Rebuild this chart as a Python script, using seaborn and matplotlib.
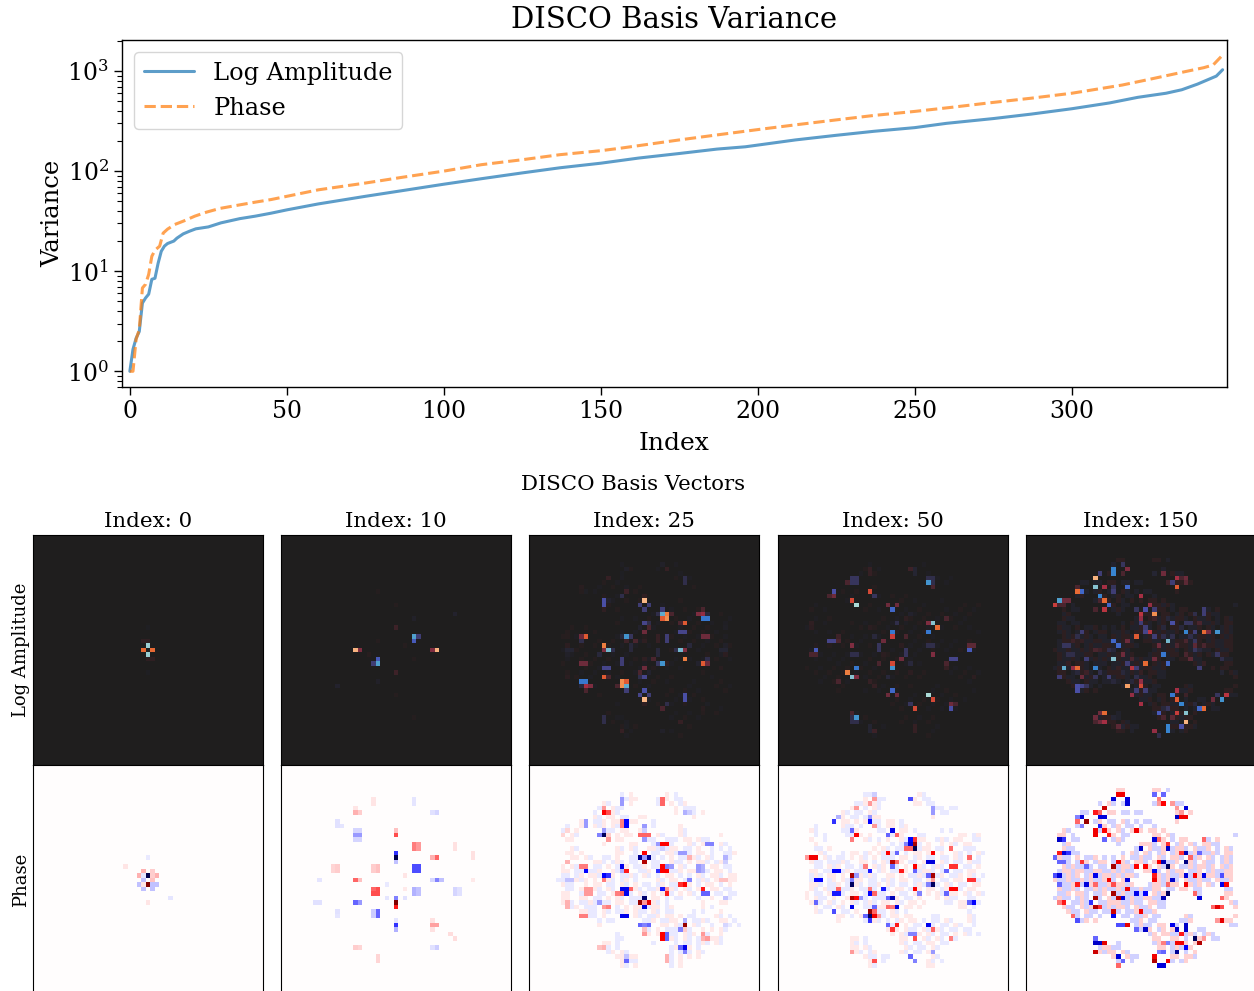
import numpy as np
import matplotlib
matplotlib.use("Agg")
import matplotlib.pyplot as plt
import seaborn as sns

# ---------- variance curves ----------
LOG_IDX = [0,1,2,3,4,5,6,7,8,9,10,11,12,14,15,17,19,21,25,29,35,40,45,50,60,75,87,100,112,125,137,150,162,175,187,196,212,225,237,250,260,275,287,300,312,321,330,335,340,346,348]
LOG_VAR = [1.0,1.66,2.14,2.5,4.8,5.4,5.9,8.3,8.5,12.0,15.8,17.8,18.9,20,21.4,23.6,25.1,26.5,27.7,30.4,33.5,35.5,38,41,47,56,64,74,84,96,108,120,135,150,166,175,205,228,250,272,300,335,371,420,480,546,600,650,740,890,1030]
PHASE_IDX = [0,1,2,3,4,5,6,7,8,9.5,10.6,12,14.3,17,20.7,24.4,28.7,35,40,45,50,60,75,87,100,112,125,137,150,156,175,187,200,212,225,237,250,262,274,287,300,316,325,335,342,345,347.5]
PHASE_VAR = [1.0,1.0,2.1,2.6,6.8,7.4,9.3,14.1,16.2,17.8,24,26.3,29.3,31.6,35.5,38.9,42.4,46,49,52,56,65,76,87,100,116,130,146,160,169,205,230,260,290,325,360,395,435,482,535,600,724,830,970,1080,1150,1390]
INDEX_LABELS = [0, 10, 25, 50, 150]
ROW_LABELS = ["Log Amplitude", "Phase"]
XTICKS = [0, 50, 100, 150, 200, 250, 300]

# ---------- basis vector cells: (row, col, value) on a 51x51 grid ----------
LOG_0 = [(24,25,-.9),(26,25,-.9),(25,24,.7),(25,26,.7),(23,24,.1),(23,25,.1),(27,25,.1),(27,26,.1),(20,25,-.04),(30,25,-.04)]
PHASE_0 = [(24,25,-1),(26,25,1),(23,24,.15),(23,26,.1),(24,23,.15),(24,24,-.05),(24,26,.1),(24,27,.15),(25,24,-.12),(25,26,.12),
           (26,23,-.12),(26,24,.05),(26,26,-.12),(26,27,-.12),(27,24,-.12),(27,26,-.12),(20,25,-.04),(30,25,.05),(22,20,.05),(29,30,-.05)]
LOG_10 = [(25,16,.9),(25,17,.35),(25,34,.9),(25,33,.35),(22,29,-.7),(22,30,-.3),(23,29,-.45),(28,21,-.7),(27,21,-.45),(28,20,-.3),
          (20,25,.15),(30,25,.15),(17,38,-.1),(33,12,-.1),(32,21,-.08),(18,29,-.08),(15,25,.05),(35,25,.05),(24,27,.05),(26,19,.06),(12,21,.04),(40,29,.04),(23,21,.05),(27,29,.05)]
PHASE_10 = [(20,25,-1),(19,25,-.4),(21,25,-.12),(30,25,1),(31,25,.45),(29,25,-.25),(15,25,.35),(14,25,.12),(35,25,-.4),(36,25,-.15),(34,25,-.05),
            (17,29,.25),(18,29,.25),(17,30,.2),(18,30,.2),(20,34,.3),(20,33,.15),(22,29,-.35),(22,30,-.35),(23,29,-.35),(23,30,-.35),
            (25,34,-.25),(25,35,-.12),(25,33,-.08),(25,16,.3),(25,17,.12),(27,20,.3),(27,21,.35),(28,20,.35),(28,21,.35),(32,21,-.3),(33,21,-.3),(32,20,-.1),(33,20,-.1),
            (30,16,-.3),(30,17,-.2),(15,16,-.2),(15,17,-.2),(14,16,-.08),(16,16,-.08),(14,17,-.08),(16,17,-.08),(10,16,.15),(10,17,.1),(9,16,.05),(10,34,-.08),(10,33,-.06),
            (27,29,-.15),(27,30,-.12),(28,29,-.15),(28,30,-.12),(22,21,.12),(23,21,.12),(22,20,.1),(23,20,.1),(22,12,.1),(23,12,.1),(22,11,.08),(23,11,.08),
            (12,12,-.06),(13,12,-.06),(13,13,-.05),(32,12,-.06),(33,12,-.05),(27,38,-.08),(28,38,-.08),(27,39,-.06),(28,39,-.06),(17,38,.06),(18,38,.06),
            (35,33,.18),(35,34,.18),(34,33,.06),(36,33,.06),(37,37,.07),(38,38,.07),(40,16,.1),(40,17,.08),(40,34,-.1),(40,33,-.06),(42,21,.08),(43,21,.08),(7,29,-.05),(8,29,-.05),
            (7,20,.05),(8,20,.05),(25,8,-.05),(19,42,.06),(20,42,.06),(30,7,-.06),(30,8,-.06),(25,42,.04),(29,23,-.05),(26,23,-.04),(24,27,.05),(27,27,.04),(29,27,-.06)]
LOG_25 = [(14,25,.92),(16,25,-.3),(15,24,-.3),(15,26,-.3),(13,25,.1),(36,25,.92),(34,25,-.4),(35,24,-.35),(35,26,-.3),(37,25,.1),
          (16,29,-.3),(17,29,-.75),(17,30,.75),(18,30,.8),(18,29,.65),(17,28,-.2),(17,31,.2),(32,20,.8),(33,20,.8),(32,21,.65),(33,21,-.75),(34,21,-.3),(33,19,.2),
          (17,38,.4),(17,37,.35),(16,38,.2),(18,38,-.55),(18,39,-.55),(17,39,-.15),(32,11,-.55),(32,12,-.55),(33,11,-.15),(33,12,.45),(33,13,.35),(34,12,.2),
          (19,34,.65),(19,33,.2),(21,33,-.35),(21,34,-.35),(31,16,.65),(31,17,.2),(29,16,-.35),(29,17,-.35),(22,12,.65),(22,11,.3),(23,11,-.2),(28,38,.65),(28,39,.3),(27,39,-.2),(28,37,-.1),
          (22,21,-.65),(22,22,-.25),(22,20,-.15),(23,21,.15),(23,23,.2),(28,29,-.65),(28,28,-.25),(28,30,.1),(27,27,.2),
          (24,16,.75),(25,17,-.8),(25,16,.35),(25,18,-.2),(26,15,-.15),(27,34,.75),(25,33,-.8),(25,34,.35),(25,32,-.2),(24,35,-.15),
          (19,25,-.35),(19,26,-.2),(21,25,.3),(20,26,.2),(20,24,-.1),(31,25,-.35),(31,24,-.2),(29,25,.3),(30,24,.2),(30,26,-.1),
          (22,30,-.3),(23,30,-.3),(22,28,.12),(23,28,.12),(27,20,-.3),(28,20,-.3),(24,22,-.15),(25,22,-.15),(25,28,-.15),(26,28,-.15),
          (14,16,-.4),(15,16,-.4),(14,17,-.1),(16,16,.1),(35,34,-.4),(36,34,-.4),(40,16,-.2),(41,16,-.2),(9,34,-.2),(10,34,-.2),(13,20,-.2),(12,21,.15),(37,30,-.2),(38,29,.2),
          (22,38,.3),(22,39,.3),(28,11,.3),(28,12,.3),(25,8,-.12),(25,9,-.12),(25,42,-.12),(25,43,-.12),(9,17,.12),(7,30,.12),(43,20,.12),(41,33,.12),(6,29,-.08),(7,21,-.08),(43,29,-.08),(42,21,-.06),(27,25,.1),(23,25,.1),
          (24,8,.08),(26,8,-.08),(26,43,.08),(24,43,-.08),(22,8,.06),(29,42,.07),(20,43,-.07),(31,8,.08),(11,11,.07),(12,12,-.06),(38,38,.07),(37,39,-.06),(40,20,-.04),(8,20,-.04)]
PHASE_25 = [(19,25,.5),(20,24,-.8),(20,26,-.8),(21,25,.8),(20,25,-.2),(29,25,-.9),(30,24,.9),(30,26,.6),(31,25,-.6),(30,25,.2),
            (15,16,-.95),(15,15,-.25),(15,17,.1),(14,16,-.2),(16,17,.2),(35,34,.9),(36,33,-.25),(36,34,.1),(34,34,-.15),(10,16,.5),(10,17,.35),(9,16,.2),
            (12,21,-.5),(13,21,-.5),(12,20,.25),(13,20,.25),(17,29,.5),(17,30,.5),(17,28,-.2),(18,29,-.1),(33,20,-.55),(33,21,-.55),(37,29,.5),(38,29,.5),(37,30,-.3),(38,30,-.3),
            (40,34,-.55),(40,33,-.3),(41,34,-.25),(22,29,.5),(23,29,.5),(23,30,.5),(23,28,-.4),(22,30,-.25),(22,31,-.2),(27,20,-.55),(27,21,-.55),(28,21,-.55),(28,20,.3),(28,19,.25),(27,22,.3),
            (22,20,-.55),(23,21,.45),(23,20,-.15),(27,29,-.45),(28,30,.45),(27,30,.2),(24,16,-.5),(24,17,-.4),(25,16,.25),(26,34,.5),(26,33,.4),(25,35,-.25),
            (23,12,-.5),(22,11,.25),(22,12,.25),(27,38,.45),(28,38,-.3),(28,39,-.3),(17,39,-.25),(17,40,-.25),(33,11,.25),(33,12,.25),(43,21,-.3),(42,21,-.12),(7,29,.3),(8,29,.3),(7,20,-.2),(8,20,-.2),(43,30,.15),(42,30,.15),
            (15,25,.3),(15,26,.3),(15,24,.3),(13,25,-.2),(14,25,-.1),(16,25,-.2),(35,25,-.25),(35,24,-.3),(35,26,-.3),(37,25,.2),(36,25,.12),
            (10,34,-.15),(10,35,-.1),(12,12,-.2),(13,12,-.2),(40,16,.15),(40,15,.12),(37,38,.2),(38,39,.2),(38,38,.15),(14,8,.08),(15,7,.08),(35,43,-.08),(25,8,-.12),(25,9,-.12),(25,43,.12),(25,42,.12),
            (20,43,-.15),(21,43,-.1),(21,8,.15),(30,8,.15),(31,8,.15),(29,43,-.12),(27,12,.2),(27,13,.2),(28,12,.2),(28,13,.2),(22,37,-.2),(23,37,-.2),(22,38,-.15),(23,38,-.15),(19,33,-.2),(19,34,-.2),(20,35,.15),(31,17,.25),(31,16,.2),(30,15,-.2)]
LOG_50 = [(15,17,-.95),(14,16,.6),(35,33,-.95),(36,34,.6),(19,34,-.85),(20,35,.7),(19,33,.35),(21,33,-.55),(31,16,-.85),(30,15,.75),(31,17,.35),(29,17,-.55),
          (21,25,-.55),(22,25,.55),(29,25,-.65),(28,25,.6),(16,25,-.5),(15,24,.3),(15,26,.3),(34,25,-.5),(35,24,.3),(35,26,.3),
          (10,33,-.65),(9,33,-.2),(9,34,-.2),(10,34,-.2),(11,34,.2),(40,17,-.65),(40,16,-.2),(41,16,-.2),(41,17,-.2),(39,16,.2),
          (12,20,.6),(13,21,-.25),(38,30,.6),(37,29,-.25),(12,12,-.4),(13,12,.3),(13,11,.2),(38,38,-.4),(37,38,.3),(37,39,.2),
          (25,8,-.45),(26,7,.2),(26,8,.2),(25,42,-.45),(24,43,.25),(24,42,.25),(23,11,-.35),(23,12,-.35),(23,13,.2),(22,13,.15),(27,38,-.35),(27,39,-.35),(28,37,.2),(29,37,.12),
          (24,16,.35),(26,16,-.2),(26,17,-.2),(26,34,.35),(24,33,-.2),(24,34,-.2),(24,22,-.25),(25,22,-.25),(25,28,-.25),(26,28,-.25),(23,23,.3),(27,27,.3),
          (18,37,.2),(32,13,.2),(19,26,-.2),(31,24,-.15),(9,16,-.25),(9,17,-.25),(10,16,-.25),(10,17,-.25),(10,15,.2),(7,20,.12),(8,20,.12),(42,30,.12),(43,30,.12),(7,30,-.12),(8,30,-.12),(7,29,.15),(42,20,-.12),(43,20,-.12),(43,21,.15),
          (22,28,.2),(28,22,.2),(28,29,-.15),(22,21,-.15),(19,7,.1),(20,7,.08),(31,43,.08),(18,28,.1),(17,29,-.1),(32,20,.12),(33,21,.12),(20,20,.08),(30,29,.08),(26,23,.08),(24,27,.08)]
PHASE_50 = [(18,30,-1),(17,30,.85),(17,29,-.6),(16,29,-.5),(16,30,.4),(18,28,.3),(18,29,.3),(17,28,-.25),(33,20,-.95),(32,20,.9),(33,21,.55),(32,21,.3),(34,20,-.4),(31,21,-.3),(33,19,-.3),(33,22,.2),
            (24,34,.85),(26,34,-.95),(24,33,-.3),(26,33,-.25),(25,34,.2),(24,16,.85),(26,16,-.95),(25,16,-.25),(24,17,-.2),(29,16,.8),(29,17,.5),(31,16,-.55),(29,18,-.2),
            (21,33,-.6),(21,34,-.6),(19,34,.5),(19,24,.5),(21,25,.75),(21,26,.3),(19,26,-.3),(22,25,-.3),(29,25,-.7),(29,24,-.3),(31,26,-.6),(31,24,.3),(31,25,.25),
            (15,17,.5),(14,16,-.3),(16,16,.25),(35,33,-.55),(36,34,.3),(12,12,-.4),(11,13,-.15),(12,20,-.5),(11,20,-.2),(13,21,.2),(14,25,-.55),(15,24,-.3),(15,26,.3),(36,25,.4),(35,24,-.3),(35,26,.45),
            (20,7,.55),(20,8,.55),(20,6,.2),(25,8,-.5),(25,9,-.5),(23,12,-.5),(23,13,-.5),(28,12,-.45),(28,13,-.45),(27,13,.3),(22,39,.4),(22,38,.4),(23,37,-.3),(27,38,.5),(27,39,.5),(28,37,-.3),(25,43,.4),(25,42,.4),
            (30,43,-.5),(30,42,-.3),(20,42,.3),(30,8,-.3),(32,12,-.35),(38,30,.35),(37,29,-.25),(37,30,-.25),(7,29,-.35),(43,21,.35),(7,21,.2),(42,29,-.3),(43,30,-.25),
            (23,20,-.45),(22,19,.25),(27,30,.5),(28,31,-.25),(22,30,.5),(23,27,.45),(23,30,-.3),(27,23,-.45),(28,20,-.5),(28,21,.3),(27,20,.25),
            (18,38,.3),(9,34,-.2),(10,34,-.2),(9,17,.2),(41,16,.2),(41,34,-.2),(38,38,.25),(8,20,.2),(6,21,-.1)]
LOG_150 = [(7,19,-.6),(8,19,-.6),(7,22,.35),(6,21,-.25),(8,16,-.3),(9,15,.9),(11,15,-.85),(11,17,.45),(11,22,-.5),(11,19,-.25),(12,19,-.3),(12,11,.7),(12,12,-.5),(11,11,.2),
           (14,7,-.7),(15,6,.55),(14,8,.3),(14,9,.3),(15,7,.2),(15,8,.2),(13,16,-.6),(14,17,.7),(15,18,-.5),(16,17,.5),(14,16,.2),(16,15,.2),(13,25,.45),(15,27,.4),(16,26,-.4),(16,28,-.3),(16,24,-.25),
           (17,25,.5),(17,28,.8),(18,25,.4),(19,25,-.3),(20,26,-.3),(19,32,-.4),(19,38,.2),(16,39,-.3),(17,39,-.3),(17,37,-.2),(19,35,-.25),(19,36,-.25),(21,27,.5),(21,26,-.35),(22,24,.65),(22,28,-.3),
           (21,35,-.6),(21,39,.7),(21,40,.35),(21,42,-.65),(21,37,-.3),(23,31,-.8),(24,29,.3),(23,19,-.5),(24,20,-.5),(23,22,.3),(21,12,-.3),(27,19,-.85),(28,31,-.5),(26,30,-.55),(27,28,.3),
           (28,26,.7),(28,22,-.3),(26,21,.3),(27,13,-.3),(29,8,-.75),(29,11,.7),(29,10,.4),(29,15,-.6),(29,23,.5),(29,24,-.3),(31,7,-.3),(31,18,-.3),(31,12,.3),(31,15,-.25),
           (33,22,.85),(33,25,.6),(32,25,.4),(35,23,.4),(34,24,-.3),(34,26,-.3),(33,11,-.4),(34,11,-.4),(33,12,-.35),(33,13,-.25),(34,33,.45),(35,32,-.55),(36,33,.65),(37,34,-.6),(37,25,.45),
           (35,44,.5),(36,43,-.65),(35,42,-.25),(36,41,.3),(39,29,-.45),(39,33,.55),(39,35,-.85),(38,38,-.5),(38,39,.7),(38,31,-.25),(41,35,.9),(42,34,-.4),(42,31,-.6),(43,31,-.6),(43,28,.4),(44,29,-.2),
           (39,17,.7),(39,16,.3),(41,17,.45),(40,15,.3),(41,16,.3),(41,15,.2),(42,20,.25),(43,20,.1),(9,33,.45),(9,35,.3),(10,35,.25),(11,33,.65),(10,32,-.3),(8,30,.3),(8,28,-.12),(9,34,.2),
           (24,8,-.25),(24,9,-.25),(26,9,-.2),(26,10,-.2),(23,10,.15),(22,11,-.2),(23,12,.12),(25,15,.2),(25,16,.15),(25,18,-.2),(25,19,-.15),(24,33,.2),(25,37,-.25),(25,38,-.15),(24,37,.25),(24,39,.2),(26,42,-.25),(27,43,-.2),(26,35,.2),(27,36,.25),
           (22,32,-.2),(22,30,-.2),(20,30,-.15),(20,34,-.15),(23,35,.2),(22,36,-.2),(23,37,-.25),(28,9,.12),(30,11,-.15),(30,13,.15),(30,16,-.2),(28,17,-.1),(29,20,.12),(30,21,-.15),(32,19,-.15),(32,23,-.15),(27,23,.2),(30,25,.12),(31,24,-.2),
           (18,31,-.15),(18,28,.15),(15,30,-.1),(37,37,-.15),(38,30,-.15),(40,30,.2),(40,32,.25),(35,35,.15),(35,33,.1),(29,38,-.3),(28,39,.12),(30,43,-.12),(29,41,.1),(6,19,-.1),(8,21,.2),(7,30,-.1),(10,31,.15),(40,19,-.12),(42,21,-.12)]
PHASE_150 = [(6,20,.55),(6,21,.55),(7,19,-.6),(7,22,-.6),(8,22,-.6),(6,28,-.3),(6,30,-.3),(7,29,.25),(8,30,.5),(8,29,.2),(9,17,.7),(10,15,.45),(10,16,.3),(11,16,-.6),(11,17,-.6),
             (11,12,-.6),(11,11,-.25),(12,13,.9),(12,11,.3),(13,12,-.25),(13,16,-.45),(14,15,.55),(14,17,.5),(15,15,.55),(15,18,.45),(16,17,-.3),(9,35,-.6),(11,33,-.65),(11,34,.55),(11,35,.55),(9,33,.2),(8,32,.2),(10,34,.2),
             (14,24,.55),(16,28,-.6),(18,25,-.65),(18,31,-.65),(17,31,.4),(16,29,.3),(16,7,-.65),(16,8,-.4),(19,7,.45),(19,8,-.6),(19,9,-.4),(20,6,-.3),(21,7,-.3),(21,8,-.3),
             (19,35,-.7),(19,34,.4),(20,36,.3),(19,38,-.3),(16,39,.3),(21,20,.55),(22,19,.85),(21,12,.4),(22,13,-.3),(21,30,-.7),(21,29,.5),(22,31,-.95),(21,35,-.85),(22,24,.5),(22,26,.5),(23,28,-.55),
             (24,7,-.6),(24,6,-.35),(24,15,-.55),(25,18,.55),(25,22,-.6),(25,28,.55),(24,28,.45),(25,32,-.65),(24,35,-.6),(24,37,.5),(24,39,-.55),(24,43,-.35),
             (26,13,-.6),(26,11,.45),(26,7,-.3),(26,15,.3),(26,19,.35),(27,22,.55),(26,35,.55),(26,43,-.55),(26,44,.5),(26,31,.3),
             (28,19,.85),(29,20,.75),(29,21,-.6),(28,24,-.55),(28,26,-.5),(28,31,-.95),(29,30,-.7),(29,15,.85),(28,37,.3),(29,38,-.6),(29,43,.3),
             (30,8,.45),(30,14,-.4),(31,15,.8),(31,16,.4),(31,42,.6),(31,43,.35),(31,41,.3),(30,7,.25),(32,19,.7),(32,25,.55),(33,19,-.55),(34,11,-.35),(35,22,.6),(35,21,-.35),(35,20,-.35),(33,10,.3),
             (34,43,.6),(34,42,.2),(35,32,-.55),(35,35,-.65),(36,35,-.65),(36,33,-.65),(37,34,.45),(36,26,-.65),(36,24,-.3),(38,37,-.95),(39,38,.8),(38,39,.2),(39,33,.55),(39,34,.55),(40,35,-.5),(41,33,-.8),(39,31,-.25),(39,30,.25),
             (39,15,-.65),(39,16,-.65),(39,17,.6),(41,15,.7),(42,20,-.6),(43,21,-.3),(44,20,.3),(38,15,-.3),(42,28,.55),(43,28,.8),(43,31,.55),(44,29,-.6),(44,30,-.6),(41,30,-.3),(41,29,-.25)]

# pale texture, one string per row, first char = column 5 (p = pale positive, b = pale negative)
FILL_25 = {
 6:  "...............b.p.......p.b..............",
 7:  "...............bbpp....bpp.bb.............",
 8:  "...........pb..b.p.....b..p.bp............",
 9:  "..........bp.pbb...........p.bbb..........",
 10: ".........b.p.pb............p.pbb.p........",
 11: ".........pb.pp.bb..pp..........p..........",
 12: "......p..bbp.pp.bpp...b...................",
 13: "...b..pp.pbp.pbpp...b.b.....p.............",
 14: "..bp.p......bb.pp..pb.......pb............",
 15: "..p.pb.....bp.p.pp.pp..pb...pb.......p....",
 16: "...pp.........pp.....bb..bbb.pp.pbb.......",
 17: "...........p.....pp...bbpbb...pb.pp..pb....",
 18: "....pb........pb.pb..ppbbbpp.bb.p..b.b.b..",
 19: "...pp.p.......pp..b.p.bb.ppbpbb.pp.b..bbp.",
 20: "....pp.pb..bb.p..bb.bpb.b.p.bb.pb.pb..bb..",
 21: "...p.....ppb.bpb.bb.p.bb..pbb.p.ppb.bp....",
 22: "..p.pb.p.bb.p.bbp.bbp.bb.pp.pb..bb.pp.bb..",
 23: "..pp.bb.bbp..pbbp..bbp.bb.bbp.pp.bb.pp.b..",
 24: "..bb.bp.ppb.pp.bbpb.pb.b.pp.b.b.pb.ppb.pp.",
 25: ".bbb.pbp.p.bpb.bp.b....pb.pp.bb.bpb.p.bpp.",
 26: "..pbb..p.pp.bb.pb.p.bb.bp.bb.pp.b.pp.b.p..",
 27: "...bb.p.ppb.pb.b..pb.bbp.ppb.pb.pb.pp.bb..",
 28: "..pp..bpp.bb.pb.bb.pb.p.pbb.p.pb.b..bb.bb.",
 29: "..pp..pp.bb.p.pb.bbbp.pp.b.bb...b..p..bb..",
 30: "..ppb.bbpb.bb.pp.bbp..pb.b.......p...pp...",
 31: "...pbp.bbb.pb.b.p.pp.bpp.bp......p.b......",
 32: "......ppbb.pb.bbp.pbb.pb.bb....b.b...p....",
 33: "........bb.p...bb.pb.bbp.pp.p.bb....pb.b..",
 34: "..........b.bb......bbp.bbpp.p.bbpb..pp.b.",
 35: "..........p.........pb..pp.pbb.pb..b..pb.b",
 36: "....................bb.p.bbb.pb..p.p.pb...",
 37: "..............b.....pp.pp.bb.pbp.pb..p....",
 38: "..............bb..........pb.pb.bb.ppb....",
 39: "...........pp.b.......b....b.bb.bpb.pb....",
 40: "...........pb.b...........bp.pp.b.........",
 41: "............bp.pb.........b.b.b.pb........",
 42: "..............pp.pp......bb.p.p.p.........",
 43: "...............p.bb.......b.p.............",
 44: "...............pb.p.......b.p.............",
}
FILL_50 = {
 6:  "..............bbb.........pb..............",
 7:  "..............p.pbb......p.bb.............",
 8:  "............bbp.pb.......pp.bb............",
 9:  "...........pb.b.pb............bb.bb.......",
 10: ".........pb.bb.pb..............bb.........",
 11: "........pp.bb.bbpp...........p............",
 12: ".........pp.p.ppbb.pp.b...................",
 13: "...b.....pbb.b..bb.pp.bp..................",
 14: "..pb.....bb.p....bb.b.pp.b.....b.b........",
 15: "...b.b....bb.p.p...bbpp...bb.......pp.bp...",
 16: "..p..b........pb.b.p..pbb.pp..bpb.pp..bb.",
 17: "...p.............p..b.bb.bb.p..p.pb.pp....",
 18: "...bb.p.........p.pb.bb.ppbpp.bb.p..bbb...",
 19: "....pb...b.pp.bp.pb.bb.b.pp.pp.p..pb.b.pb.",
 20: ".bp..pb.bb.p.pb.p.bbb.pp.bp.bb.bb.pb.b.b.",
 21: "..pbb.bbbpb..pp.b.pb.pp.bb.p.p.pb.bb.pbb..",
 22: "...bb.pbp.bb.bb.pbp.bb.p.ppb.bpb.pb.bb.p.",
 23: "..pp.bb.pbp.bbbp.bp.bb.p.bbppb.bp.bb.pp..",
 24: "..bpb.pp.p.bbpbpb..pp.p.bbpb.bbp.bbp.pb.b.",
 25: "..bbp.bp.pb.pp.bb.bpb.pp.bb.pp.bb.pp.pbb.",
 26: "..ppb.bbp.b.pb.bbp.pb.bb.bpb.bb.pb.bb.pp.",
 27: "..pb.pbb.bbp.bbpb.pb.pp.bbp.pp.bp.bb.pp..",
 28: ".p.bb.p.bb.pp.bb.bb.p.bb.pb.p.pb.pp.pb.pb.",
 29: ".p.pbb.p..pb.pb.bbb.pp.bb.p...p.pbb..bb.",
 30: "..ppb.pb.p.pb.bpb.pp.pb.pp.p....bb.pp.pb.",
 31: "...p.bb.pb.p..bb.pp.bb.pp.p........pp.b.",
 32: "...pb..p.bb.p...pbb.pb.b.............b.",
 33: "........pp.b.pp..bb.pp.pp....bb......pb.",
 34: "........p.....b.pb.b.bp.pp.b.bb.pb...pb.",
 35: "...................bbp.p.bb.pb.bb.pb..b.",
 36: "...................pbp.pbb.pb.pb.bb.bb...",
 37: "....................p.pbb.p.pb.bb.p.pb.b",
 38: "...........pp.b.......pp.p.pb.pb.pb.......",
 39: "...........pb.b.......pb.bb.pp.bb.........",
 40: "...........pp.pb.......pb.bb.pb..........",
 41: "...........ppb.bp.....pb.bb.pb...........",
 42: "..............pbb.bb.........pb.........",
 43: "...............pp.b.........pb.b.........",
 44: "...............pb...........pp...........",
}
FILL_150 = {
 5:  "...............pp......pp.b...............",
 8:  "...........b.pb.b......b...pbb............",
 10: ".......bb.bb.pp.bb.bb.......pp.p..........",
 12: "........b.bp.bb.pb.b.bb.....p.............",
 13: "......bp...bp.bp.bb.b..b.................",
 14: "...pb.....bb.p.pb.p.p.pp.p................",
 15: "..pp.b.......pp.bb.....pp.pb.............b",
 16: "...p.bb.......bpb......bpp.b.pp...bb.p....",
 17: "...bp..........b....pppb.pp.bp.pb.ppbb....",
 18: "...pbb.............bb.pbbp.bppb.pbbp.b.pb.",
 19: "..bb.bb.........b.pb.pb.bp.bp.bbppbbpb.pp.",
 20: "..pbb.p.bbp.b.b.p.bbpbb.pb.ppb.bbp.pb.bpb.",
 21: "..bpb.bpp.bpp.bbpb.ppb.pbpbbp.ppb.pbb.bpb.",
 22: "...pbpbbpb.bb.pbppbp.bp.pbbp.bbpbppbp.pbp.",
 23: "..bppbppbbppbbpbpbb..ppbb.pbpp.bbp.bpbbpp.",
 24: "..bbpbp.bpbbppbpbppb...ppbpbbppbbp.ppbbpp.",
 25: ".pbbpbbpbpbbpbb.pb.....bpbppb.pbbpbb.pbbp.",
 26: "..pbbpbbpp.bbpbppbp...bppbbpp.bpbp.pb.pp.",
 27: "..pbbpb.bbpbpbbpbbbbpbbpp.bb.pp.bb.....bb.",
 28: "..bbp.ppb.bbp.bbpbbpbb.pbpb.....pb.....pp.",
 29: ".bpbb.bpb.pb.pbpbbpbbppbbp.......p....pp..",
 30: "..pp.bbpbb.bbpppbbpbb.ppbb..............pb.",
 31: "...pbb.pbpb.bpbppb.pbbp.bb...............p.",
 32: "....pbb.pbb.bb.b.bbp.bbp.................",
 33: ".....pb.bb.b....bb.bbp.bb.....pb.........p",
 34: "......bbp.p.......bbp.bb.....bbp.......pp.",
 35: "...................bpbb.pp.bb.b.........bb",
 36: "....................bbp.bp.pp.b..bb.......",
 37: "......................bp.ppbbpbpb.bpb.....",
 38: ".......................pp..pp.b.bpp.bb....",
 39: "...........bb..b.......bpp.bbpp.p.........",
 40: "...........bppbb........pp.bpbpp...........",
 41: "...........pbpp.pb.........bb.b.p..........",
 42: "..............pb.pbb.......pp.ppb.........",
 43: "...............bp.b.......pb.bp............",
}
PHASE_FILL_LEVELS = [0, 0, .04, .045, .09]
LOG_FILL_LEVELS = [0, 0, .05, .05, .09]
LOG_FILL_KEEP = [1, 1, 3, 3, 1]

LOG_PANELS = [LOG_0, LOG_10, LOG_25, LOG_50, LOG_150]
PHASE_PANELS = [PHASE_0, PHASE_10, PHASE_25, PHASE_50, PHASE_150]
FILLS = [None, None, FILL_25, FILL_50, FILL_150]

# ---------- drawing ----------
W, H = 1254, 991
sns.set_theme(style="ticks")
plt.rcParams["font.family"] = ["DejaVu Serif"]
plt.rcParams["mathtext.fontset"] = "dejavuserif"
plt.rcParams["axes.edgecolor"] = "black"
plt.rcParams["text.color"] = "black"
plt.rcParams["axes.labelcolor"] = "black"
plt.rcParams["xtick.color"] = "black"
plt.rcParams["ytick.color"] = "black"
fig = plt.figure(figsize=(W / 100, H / 100), dpi=100)

def axes_px(x, y, w, h):
    return fig.add_axes([x / W, 1 - (y + h) / H, w / W, h / H])

def grid(cells, fill=None, level=.1, keep=1):
    m = np.zeros((51, 51))
    if fill:
        for r, s in fill.items():
            for i, ch in enumerate(s):
                if ch in "pb" and 5 + i < 51 and (keep == 1 or (r + i) % keep == 0):
                    m[r, 5 + i] = level if ch == "p" else -level
    for r, c, v in cells:
        m[r, c] = v
    return m

ax = axes_px(122, 40, 1105, 347)
sns.lineplot(x=LOG_IDX, y=LOG_VAR, ax=ax, label="Log Amplitude", color="tab:blue", alpha=.72, lw=2.2, errorbar=None)
sns.lineplot(x=PHASE_IDX, y=PHASE_VAR, ax=ax, label="Phase", color="tab:orange", alpha=.72, lw=2.2, errorbar=None, linestyle="--")
ax.set_yscale("log")
ax.set_xlim(-2.5, 349.4)
ax.set_ylim(10 ** -0.157, 10 ** 3.31)
ax.set_xticks(XTICKS)
ax.tick_params(axis="both", which="major", labelsize=17, length=6, width=1, left=True, bottom=True)
ax.tick_params(axis="y", which="minor", length=3.5, width=.8, left=True)
ax.set_xlabel("Index", fontsize=18, labelpad=6)
ax.set_ylabel("Variance", fontsize=17.5, labelpad=2)
ax.set_title("DISCO Basis Variance", fontsize=21, pad=8.5)
for s in ax.spines.values():
    s.set_visible(True)
    s.set_linewidth(1)
ax.legend(loc="upper left", fontsize=17.3, handlelength=2.1, frameon=True)

fig.text(633 / W, 1 - 485 / H, "DISCO Basis Vectors", fontsize=15.3, ha="center", va="center")

for j, idx in enumerate(INDEX_LABELS):
    x0 = 33 + 248.2 * j
    a1 = axes_px(x0, 535, 230, 230)
    sns.heatmap(grid(LOG_PANELS[j], FILLS[j], LOG_FILL_LEVELS[j], LOG_FILL_KEEP[j]), cmap="icefire", vmin=-1, vmax=1, cbar=False, xticklabels=False, yticklabels=False, square=False, ax=a1)
    a1.set_title(f"Index: {idx}", fontsize=15.4, pad=5.5)
    a2 = axes_px(x0, 765, 230, 230)
    sns.heatmap(grid(PHASE_PANELS[j], FILLS[j], PHASE_FILL_LEVELS[j]), cmap="seismic", vmin=-1, vmax=1, cbar=False, xticklabels=False, yticklabels=False, square=False, ax=a2)
    for a in (a1, a2):
        for s in a.spines.values():
            s.set_visible(True)
            s.set_linewidth(.8)
            s.set_color("black")
    if j == 0:
        a1.set_ylabel(ROW_LABELS[0], fontsize=13, labelpad=2)
        a2.set_ylabel(ROW_LABELS[1], fontsize=13, labelpad=2)

fig.savefig("out.png", dpi=100)
